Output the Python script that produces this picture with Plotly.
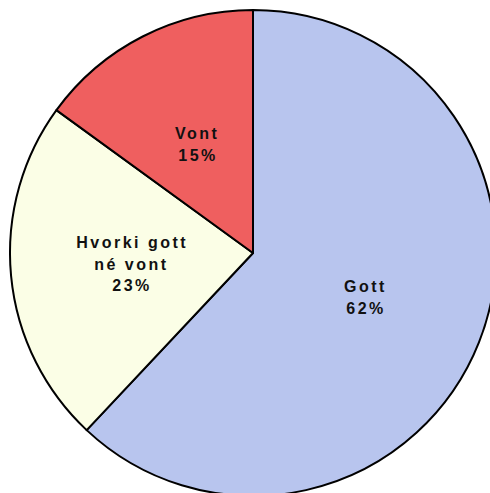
import math
import plotly.graph_objects as go

categories = ["Gott", "Hvorki gott né vont", "Vont"]
label_lines = [["Gott"], ["Hvorki gott", "né vont"], ["Vont"]]
values = [62, 23, 15]
colors = ["#B8C5EE", "#FBFEE6", "#EF5F5F"]

fig = go.Figure(go.Pie(
    labels=categories,
    values=values,
    sort=False,
    direction="clockwise",
    rotation=0,
    marker=dict(colors=colors, line=dict(color="#000000", width=2)),
    textinfo="none",
    hoverinfo="label+percent",
    showlegend=False,
    domain=dict(x=[0, 1], y=[0, 1]),
))

# labels at half radius along each slice's mid-angle
total = sum(values)
cum = 0
line_h = 21.5
for lines, v in zip(label_lines, values):
    mid = (cum + v / 2) / total * 2 * math.pi
    cum += v
    px = 0.5 + 0.25 * math.sin(mid)
    py = 0.5 + 0.25 * math.cos(mid)
    all_lines = lines + [f"{round(v / total * 100)}%"]
    n = len(all_lines)
    for i, t in enumerate(all_lines):
        fig.add_annotation(
            x=px, y=py, xref="paper", yref="paper",
            text=f"<b>{t}</b>", showarrow=False,
            xanchor="center", yanchor="middle",
            yshift=-(i - (n - 1) / 2) * line_h,
            font=dict(family="Liberation Sans, Arial, sans-serif", size=16, color="#111111"),
        )

fig.update_layout(
    width=506, height=506,
    margin=dict(l=10, r=10, t=10, b=10),
    paper_bgcolor="white",
    plot_bgcolor="white",
)

fig.write_html(
    "out.html",
    config={"displayModeBar": False},
    post_script=(
        "document.body.style.margin='0';"
        "document.body.style.overflow='hidden';"
        "document.documentElement.style.overflow='hidden';"
        "var s=document.createElement('style');"
        "s.textContent='.annotation-text{letter-spacing:2.5px}';"
        "document.head.appendChild(s);"
    ),
)
